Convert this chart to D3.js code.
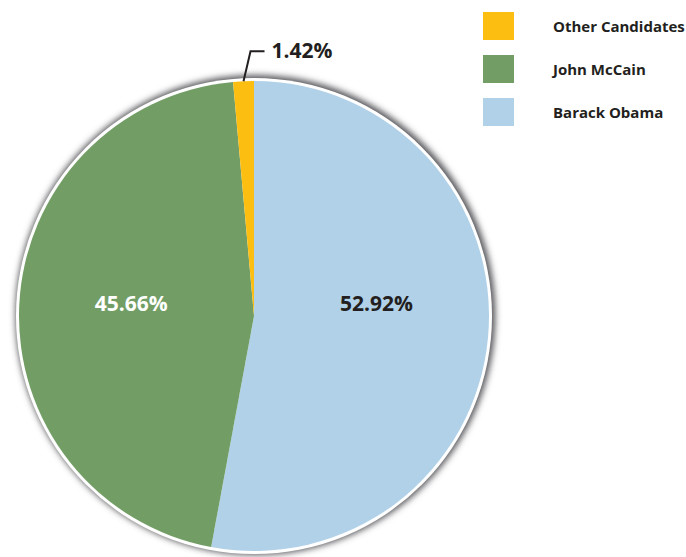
<!DOCTYPE html>
<html>
<head>
<meta charset="utf-8">
<script src="https://unpkg.com/d3@7/dist/d3.min.js"></script>
<style>
  body { margin: 0; background: #fff; }
  text { font-family: "Open Sans", sans-serif; font-weight: 700; }
</style>
</head>
<body>
<div id="chart"></div>
<script>
// pie order, clockwise from 12 o'clock
const candidates = ["Barack Obama", "John McCain", "Other Candidates"];
const shares = [52.92, 45.66, 1.42];
const colors = ["#b1d1e8", "#729e66", "#fdbe12"];
// legend order top to bottom
const legendOrder = ["Other Candidates", "John McCain", "Barack Obama"];

var width = 686, height = 557;
var cx = 254, cy = 316, radius = 235;

var svg = d3.select("#chart").append("svg")
  .attr("width", width)
  .attr("height", height);

var defs = svg.append("defs");
var glow = defs.append("filter")
  .attr("id", "glow")
  .attr("x", "-20%").attr("y", "-20%")
  .attr("width", "140%").attr("height", "140%");
glow.append("feGaussianBlur").attr("stdDeviation", 3);

var data = candidates.map((c, i) => ({name: c, value: shares[i], color: colors[i]}));

var pie = d3.pie().sort(null).value(d => d.value);
var arcs = pie(data);
var arc = d3.arc().innerRadius(0).outerRadius(radius);
var labelArc = d3.arc().innerRadius(123).outerRadius(123);

var g = svg.append("g").attr("transform", `translate(${cx}, ${cy})`);

// grey shadow round the pie, a touch to the upper right
g.append("circle")
  .attr("cx", 1.5)
  .attr("cy", -1)
  .attr("r", radius + 5)
  .attr("fill", "#5a5a5e")
  .attr("filter", "url(#glow)");

// white rim
g.append("circle")
  .attr("r", radius + 3)
  .attr("fill", "#fff");

g.selectAll("path.slice")
  .data(arcs)
  .enter().append("path")
  .attr("class", "slice")
  .attr("d", arc)
  .attr("fill", d => d.data.color);

// inside labels for the two big slices
g.selectAll("text.inner")
  .data(arcs.filter(d => d.data.value > 10))
  .enter().append("text")
  .attr("class", "inner")
  .attr("x", d => labelArc.centroid(d)[0])
  .attr("y", -5)
  .attr("text-anchor", "middle")
  .attr("font-size", 21)
  .attr("fill", d => d.data.name === "John McCain" ? "#fff" : "#231f20")
  .text(d => d.data.value.toFixed(2) + "%");

// leader line for the small slice
var small = arcs.filter(d => d.data.value < 10)[0];
var mid = (small.startAngle + small.endAngle) / 2;
var p0 = [Math.sin(mid) * radius, -Math.cos(mid) * radius];
var p1 = [p0[0] + 7, p0[1] - 30];
var p2 = [p1[0] + 14, p1[1]];
g.append("path")
  .attr("d", d3.line()([p0, p1, p2]))
  .attr("fill", "none")
  .attr("stroke", "#231f20")
  .attr("stroke-width", 2);
g.append("text")
  .attr("x", p2[0] + 7)
  .attr("y", p2[1] + 7)
  .attr("font-size", 21)
  .attr("fill", "#231f20")
  .text(small.data.value.toFixed(2) + "%");

// legend
var colorOf = d3.scaleOrdinal().domain(candidates).range(colors);
var legend = svg.append("g").attr("transform", "translate(483, 12)");
var item = legend.selectAll("g")
  .data(legendOrder)
  .enter().append("g")
  .attr("transform", (d, i) => `translate(0, ${i * 43})`);
item.append("rect")
  .attr("width", 31)
  .attr("height", 28)
  .attr("fill", d => colorOf(d));
item.append("text")
  .attr("x", 70)
  .attr("y", 20)
  .attr("font-size", 15)
  .attr("fill", "#231f20")
  .text(d => d);
</script>
</body>
</html>
